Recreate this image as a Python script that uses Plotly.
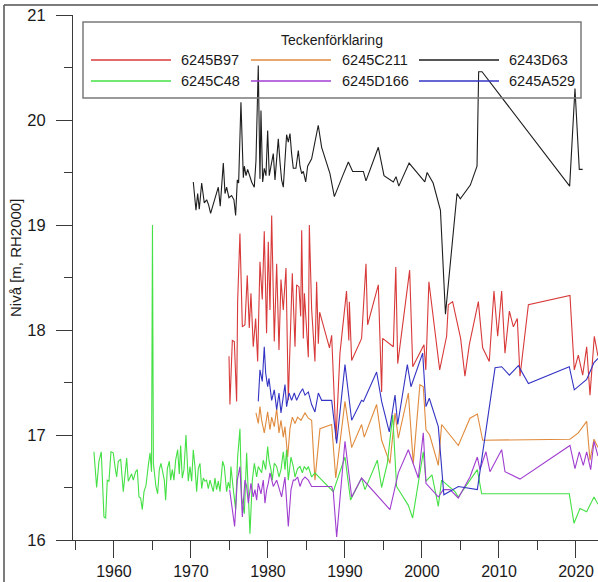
import plotly.graph_objects as go

# --- Groundwater level series (year, level in m RH2000) ---
b97_years = [1974.94, 1975.06, 1975.37, 1975.63, 1975.93, 1976.06, 1976.36, 1976.67, 1977.01, 1977.31,
             1977.57, 1977.79, 1978.09, 1978.40, 1978.66, 1978.96, 1979.26, 1979.52, 1979.82, 1980.04,
             1980.26, 1980.48, 1980.82, 1981.13, 1981.43, 1981.69, 1981.99, 1982.34, 1982.64, 1982.86,
             1983.16, 1983.51, 1983.72, 1984.03, 1984.25, 1984.38, 1984.59, 1984.73, 1985.24, 1985.37,
             1985.67, 1986.10, 1986.32, 1986.54, 1986.71, 1987.99, 1988.27, 1988.83, 1989.35, 1990.20,
             1990.50, 1990.57, 1990.87, 1992.16, 1992.73, 1992.94, 1994.33, 1994.76, 1994.89, 1996.28,
             1996.60, 1996.85, 1998.40, 1998.80, 2000.26, 2000.50, 2000.90, 2002.30, 2003.20, 2003.42,
             2003.98, 2005.02, 2005.58, 2006.15, 2007.32, 2007.88, 2008.74, 2009.35, 2009.83, 2010.35,
             2010.78, 2011.35, 2011.87, 2012.38, 2012.73, 2013.82, 2019.22, 2019.78, 2020.30, 2020.87,
             2021.39, 2021.82, 2022.38, 2022.86]
b97_levels = [17.75, 17.29, 17.90, 17.89, 17.32, 18.27, 18.92, 18.03, 18.05, 18.52,
              18.02, 18.35, 17.84, 18.11, 17.70, 18.65, 18.29, 18.94, 17.97, 18.84,
              18.19, 19.09, 17.89, 18.63, 17.81, 18.48, 18.19, 18.59, 17.33, 17.94,
              18.54, 17.84, 18.43, 18.41, 18.13, 18.95, 17.92, 18.35, 17.74, 19.00,
              18.20, 17.70, 18.46, 17.87, 18.17, 17.83, 17.95, 16.96, 17.78, 18.37,
              17.90, 18.27, 17.71, 17.92, 18.63, 18.05, 18.43, 17.41, 17.92, 17.84,
              18.60, 17.68, 18.57, 17.65, 17.86, 17.62, 18.46, 17.62, 17.94, 18.24,
              18.27, 17.92, 17.56, 17.86, 18.27, 17.83, 17.70, 18.37, 17.94, 18.37,
              17.78, 18.18, 18.03, 18.11, 17.56, 18.24, 18.33, 17.62, 17.76, 17.57,
              17.84, 17.38, 17.94, 17.75]

c211_years = [1978.44, 1978.74, 1978.96, 1979.18, 1979.52, 1979.70, 1979.96, 1980.26, 1980.48, 1980.82,
              1981.13, 1981.43, 1981.69, 1981.99, 1982.21, 1982.56, 1982.86, 1983.16, 1983.51, 1983.85,
              1984.29, 1984.81, 1985.24, 1985.67, 1986.10, 1986.75, 1988.27, 1988.80, 1990.00, 1990.87,
              1992.16, 1992.50, 1994.11, 1994.76, 1995.84, 1996.50, 1996.93, 1998.23, 1998.87, 1999.73,
              2000.17, 2000.52, 2001.00, 2002.12, 2002.55, 2004.72, 2006.23, 2007.19, 2007.88, 2019.22,
              2020.30, 2021.39, 2021.82, 2022.34, 2022.86]
c211_levels = [17.21, 17.11, 17.27, 17.14, 17.02, 17.11, 17.22, 17.05, 17.17, 17.08,
               17.25, 17.02, 17.14, 16.98, 17.08, 16.79, 17.06, 17.17, 17.11, 17.17,
               17.14, 17.21, 17.16, 17.14, 16.57, 17.06, 17.10, 16.59, 17.32, 16.88,
               17.10, 16.98, 17.29, 16.95, 16.73, 17.21, 16.97, 17.40, 16.73, 17.48,
               17.46, 17.05, 17.00, 16.71, 17.10, 16.90, 17.16, 17.20, 16.95, 16.96,
               17.02, 17.13, 16.76, 16.96, 16.88]

d63_years = [1970.30, 1970.65, 1970.87, 1971.08, 1971.39, 1971.73, 1972.04, 1972.30, 1972.55, 1972.90,
             1973.17, 1973.55, 1973.80, 1974.00, 1974.20, 1974.42, 1974.63, 1974.93, 1975.28, 1975.58,
             1975.80, 1976.02, 1976.19, 1976.49, 1976.80, 1976.93, 1977.15, 1977.36, 1977.58, 1977.88,
             1978.22, 1978.44, 1978.74, 1978.96, 1979.09, 1979.31, 1979.52, 1979.74, 1979.96, 1980.17,
             1980.39, 1980.69, 1980.91, 1981.13, 1981.34, 1981.56, 1981.77, 1981.99, 1982.21, 1982.42,
             1982.64, 1982.86, 1983.07, 1983.29, 1983.63, 1983.94, 1984.16, 1984.38, 1984.59, 1984.90,
             1985.15, 1985.67, 1986.53, 1986.97, 1988.05, 1988.62, 1989.71, 1990.44, 1991.00, 1992.39,
             1992.73, 1994.33, 1995.07, 1996.28, 1996.63, 1996.99, 1998.33, 2000.37, 2000.67, 2001.45,
             2002.40, 2003.05, 2004.55, 2004.98, 2006.28, 2007.15, 2007.36, 2007.80, 2019.18, 2019.87,
             2020.43, 2020.87]
d63_levels = [19.41, 19.14, 19.30, 19.15, 19.40, 19.21, 19.24, 19.19, 19.11, 19.20,
              19.26, 19.36, 19.18, 19.40, 19.59, 19.30, 19.36, 19.26, 19.28, 19.24,
              19.09, 19.43, 19.40, 20.17, 19.45, 19.56, 19.47, 19.53, 19.48, 19.41,
              19.36, 19.61, 20.52, 19.44, 20.09, 19.41, 19.54, 19.47, 19.90, 19.47,
              19.56, 19.68, 19.43, 19.65, 19.82, 19.60, 19.43, 19.36, 19.62, 19.86,
              19.79, 19.87, 19.68, 19.54, 19.54, 19.71, 19.56, 19.49, 19.51, 19.41,
              19.56, 19.63, 19.95, 19.74, 19.49, 19.27, 19.47, 19.60, 19.51, 19.51,
              19.42, 19.74, 19.47, 19.41, 19.46, 19.37, 19.59, 19.41, 19.50, 19.40,
              19.14, 18.15, 19.30, 19.25, 19.38, 19.56, 20.46, 20.46, 19.37, 20.30,
              19.53, 19.53]

c48_years = [1957.40, 1957.75, 1958.05, 1958.35, 1958.70, 1958.92, 1959.13, 1959.35, 1959.61, 1959.91,
             1960.17, 1960.35, 1960.56, 1960.87, 1961.21, 1961.43, 1961.65, 1961.86, 1962.08, 1962.29,
             1962.51, 1962.81, 1963.03, 1963.25, 1963.46, 1963.68, 1963.90, 1964.16, 1964.46, 1964.68,
             1964.88, 1965.00, 1965.12, 1965.45, 1965.67, 1965.89, 1966.10, 1966.32, 1966.54, 1966.71,
             1966.93, 1967.19, 1967.36, 1967.58, 1967.79, 1968.01, 1968.27, 1968.48, 1968.66, 1968.87,
             1969.09, 1969.35, 1969.52, 1969.65, 1969.87, 1970.09, 1970.30, 1970.52, 1970.74, 1970.95,
             1971.17, 1971.39, 1971.60, 1971.82, 1972.03, 1972.25, 1972.47, 1972.68, 1972.90, 1973.12,
             1973.33, 1973.55, 1973.77, 1974.11, 1974.33, 1974.63, 1974.85, 1975.06, 1975.19, 1975.50,
             1975.80, 1976.06, 1976.36, 1976.58, 1976.93, 1977.23, 1977.45, 1977.66, 1977.97, 1978.23,
             1978.53, 1978.74, 1979.18, 1979.39, 1979.70, 1979.96, 1980.13, 1980.39, 1980.56, 1980.82,
             1981.13, 1981.43, 1981.69, 1981.99, 1982.21, 1982.42, 1982.64, 1982.99, 1983.29, 1983.51,
             1983.85, 1984.16, 1984.46, 1984.72, 1985.02, 1985.24, 1985.67, 1986.10, 1986.75, 1988.48,
             1990.00, 1990.73, 1992.16, 1992.60, 1994.20, 1994.76, 1995.50, 1996.20, 1996.70, 1998.23,
             1998.79, 2000.17, 2000.52, 2001.30, 2002.12, 2002.55, 2004.29, 2004.72, 2007.19, 2007.75,
             2019.13, 2019.74, 2020.52, 2021.39, 2022.34, 2022.86]
c48_levels = [16.84, 16.50, 16.75, 16.84, 16.22, 16.21, 16.57, 16.56, 16.84, 16.83,
              16.68, 16.60, 16.75, 16.77, 16.46, 16.62, 16.78, 16.56, 16.60, 16.63,
              16.57, 16.65, 16.67, 16.41, 16.40, 16.29, 16.46, 16.52, 16.71, 16.83,
              16.65, 19.00, 16.73, 16.51, 16.44, 16.67, 16.73, 16.65, 16.57, 16.38,
              16.68, 16.75, 16.57, 16.67, 16.57, 16.76, 16.86, 16.63, 16.90, 16.59,
              16.67, 17.00, 16.75, 16.56, 16.70, 16.56, 16.86, 16.70, 16.46, 16.68,
              16.73, 16.49, 16.59, 16.56, 16.57, 16.49, 16.57, 16.51, 16.46, 16.59,
              16.48, 16.56, 16.46, 16.75, 16.70, 16.46, 16.55, 16.49, 16.70, 16.48,
              16.29, 16.79, 17.06, 16.41, 16.25, 16.83, 16.44, 16.06, 16.57, 16.73,
              16.60, 16.70, 16.64, 16.76, 16.67, 16.89, 16.76, 16.67, 16.57, 16.73,
              16.70, 16.60, 16.67, 16.84, 16.67, 16.86, 16.57, 16.79, 16.70, 16.60,
              16.68, 16.70, 16.64, 16.70, 16.67, 16.70, 16.60, 16.64, 16.59, 16.46,
              16.79, 16.38, 16.59, 16.48, 16.76, 16.50, 16.73, 17.19, 16.51, 16.33,
              16.21, 16.84, 16.56, 16.62, 16.32, 16.57, 16.46, 16.41, 16.67, 16.44,
              16.44, 16.16, 16.30, 16.27, 16.41, 16.34]

d166_years = [1975.02, 1975.24, 1975.67, 1976.02, 1976.36, 1976.67, 1977.01, 1977.23, 1977.45, 1977.79,
              1978.09, 1978.31, 1978.53, 1978.74, 1979.09, 1979.39, 1979.61, 1979.83, 1980.04, 1980.26,
              1980.69, 1981.13, 1981.34, 1981.77, 1982.21, 1982.64, 1982.99, 1983.29, 1983.51, 1983.85,
              1984.16, 1984.46, 1984.81, 1985.24, 1985.67, 1986.10, 1986.32, 1987.40, 1988.27, 1988.48,
              1988.92, 1990.00, 1990.87, 1992.16, 1995.84, 1996.93, 1998.23, 1999.52, 2000.17, 2000.52,
              2002.12, 2002.77, 2003.64, 2004.72, 2006.23, 2007.19, 2007.53, 2008.31, 2008.83, 2010.35,
              2010.78, 2012.73, 2019.22, 2019.87, 2020.43, 2020.95, 2021.39, 2021.91, 2022.34, 2022.86]
d166_levels = [16.48, 16.35, 16.13, 16.57, 16.70, 16.22, 16.57, 16.51, 16.35, 16.54,
               16.41, 16.48, 16.38, 16.54, 16.44, 16.57, 16.35, 16.48, 16.54, 16.64,
               16.51, 16.57, 16.51, 16.41, 16.60, 16.13, 16.48, 16.57, 16.57, 16.60,
               16.51, 16.57, 16.60, 16.57, 16.51, 16.51, 16.51, 16.51, 16.51, 16.46,
               16.03, 16.94, 16.41, 16.59, 16.29, 16.64, 16.86, 16.59, 17.02, 16.54,
               16.41, 16.48, 16.48, 16.40, 16.60, 16.79, 16.67, 16.84, 16.65, 16.86,
               16.65, 16.58, 16.90, 16.68, 16.84, 16.71, 16.84, 16.67, 16.94, 16.80]

a529_years = [1978.74, 1978.96, 1979.26, 1979.52, 1979.70, 1979.96, 1980.13, 1980.48, 1980.82, 1981.13,
              1981.43, 1981.69, 1982.21, 1982.42, 1982.73, 1983.07, 1983.42, 1983.72, 1984.16, 1984.50,
              1984.81, 1985.24, 1985.67, 1986.10, 1986.54, 1986.97, 1988.27, 1988.92, 1990.00, 1990.87,
              1992.16, 1992.40, 1994.11, 1994.76, 1995.75, 1996.50, 1996.85, 1998.10, 1998.57, 2000.09,
              2000.52, 2000.95, 2002.12, 2002.84, 2004.72, 2007.19, 2009.49, 2010.35, 2011.35, 2012.52,
              2013.82, 2019.13, 2019.78, 2021.39, 2022.34, 2022.86]
a529_levels = [17.32, 17.62, 17.51, 17.84, 17.59, 17.46, 17.54, 17.33, 17.43, 17.24,
               17.40, 17.21, 17.48, 17.27, 17.40, 17.33, 17.40, 17.33, 17.40, 17.44,
               17.38, 17.41, 17.29, 17.22, 17.40, 17.33, 17.33, 16.92, 17.67, 17.14,
               17.33, 17.32, 17.60, 17.32, 17.03, 17.38, 17.10, 17.67, 17.46, 17.78,
               17.27, 17.35, 17.08, 16.43, 16.51, 16.48, 17.64, 17.65, 17.57, 17.66,
               17.49, 17.65, 17.43, 17.53, 17.69, 17.73]

series_names = ["6245B97", "6245C211", "6243D63", "6245C48", "6245D166", "6245A529"]
series_years = [b97_years, c211_years, d63_years, c48_years, d166_years, a529_years]
series_levels = [b97_levels, c211_levels, d63_levels, c48_levels, d166_levels, a529_levels]
series_colors = ["#d83a3a", "#e08a3c", "#1e1e1e", "#44e044", "#a03ed0", "#3434c4"]

# x-axis / y-axis limits and ticks
x_range = [1954.68, 2022.86]
y_range = [16, 21]
x_ticks = [1960, 1970, 1980, 1990, 2000, 2010, 2020]
y_ticks = [16, 17, 18, 19, 20, 21]

W, H = 598, 582
ML, MT, MB = 73, 15, 42
PW, PH = W - ML, H - MT - MB

def px(x):
    return (x - ML) / PW

def py(y):
    return (H - MB - y) / PH

fig = go.Figure()
for name, xs, ys, col in zip(series_names, series_years, series_levels, series_colors):
    fig.add_trace(go.Scatter(x=xs, y=ys, mode="lines", name=name,
                             line=dict(color=col, width=1.1), showlegend=False))

axis_col = "#3a3a3a"
font = dict(family="Liberation Sans, Arial, sans-serif", size=16.5, color="#1a1a1a")

fig.update_xaxes(range=x_range, tickmode="array", tickvals=x_ticks, automargin=False,
                 ticks="outside", ticklen=17, tickwidth=1, tickcolor=axis_col,
                 tickfont=dict(size=16),
                 showline=True, linecolor=axis_col, linewidth=1,
                 showgrid=False, zeroline=False, ticklabelstandoff=0,
                 minor=dict(tickvals=[1955, 1965, 1975, 1985, 1995, 2005, 2015],
                            ticks="outside", ticklen=9, tickcolor=axis_col))
fig.update_yaxes(range=y_range, tickmode="array", tickvals=y_ticks, automargin=False,
                 ticks="outside", ticklen=16, tickwidth=1, tickcolor=axis_col,
                 showline=True, linecolor=axis_col, linewidth=1,
                 showgrid=False, zeroline=False, ticklabelstandoff=7,
                 minor=dict(tickvals=[16.5, 17.5, 18.5, 19.5, 20.5],
                            ticks="outside", ticklen=8, tickcolor=axis_col))

shapes = []
annotations = []

# outer frame (left and top edges)
shapes.append(dict(type="line", xref="paper", yref="paper", x0=px(4), x1=px(4), y0=py(5), y1=py(H + 5),
                   line=dict(color="#505050", width=1.5)))
shapes.append(dict(type="line", xref="paper", yref="paper", x0=px(4), x1=px(W + 5), y0=py(5), y1=py(5),
                   line=dict(color="#505050", width=1.5)))

# legend box
shapes.append(dict(type="rect", xref="paper", yref="paper", x0=px(83), x1=px(581), y0=py(98), y1=py(22),
                   line=dict(color="#7a7a7a", width=1.5), fillcolor="rgba(0,0,0,0)"))
annotations.append(dict(text="Teckenförklaring", xref="paper", yref="paper", x=px(332), y=py(40),
                        showarrow=False, xanchor="center", yanchor="middle",
                        font=dict(family=font["family"], size=14, color="#1a1a1a")))

col_line_x = [(91, 171), (251, 331), (419, 499)]
col_text_x = [179, 340, 507]
row_y = [60, 81]
for i, (name, col) in enumerate(zip(series_names, series_colors)):
    r, c = divmod(i, 3)
    x0, x1 = col_line_x[c]
    shapes.append(dict(type="line", xref="paper", yref="paper", x0=px(x0), x1=px(x1),
                       y0=py(row_y[r]), y1=py(row_y[r]), line=dict(color=col, width=1.3)))
    annotations.append(dict(text=name, xref="paper", yref="paper", x=px(col_text_x[c]), y=py(row_y[r]),
                            showarrow=False, xanchor="left", yanchor="middle",
                            font=dict(family=font["family"], size=14.5, color="#1a1a1a")))

# y-axis title
annotations.append(dict(text="Nivå [m, RH2000]", xref="paper", yref="paper", x=px(15), y=py(258),
                        showarrow=False, textangle=-90, xanchor="center", yanchor="middle",
                        font=dict(family=font["family"], size=15, color="#1a1a1a")))

fig.update_layout(width=W, height=H, margin=dict(l=ML, r=0, t=MT, b=MB),
                  paper_bgcolor="white", plot_bgcolor="white", font=font,
                  shapes=shapes, annotations=annotations, showlegend=False)

fig.write_html("out.html")
